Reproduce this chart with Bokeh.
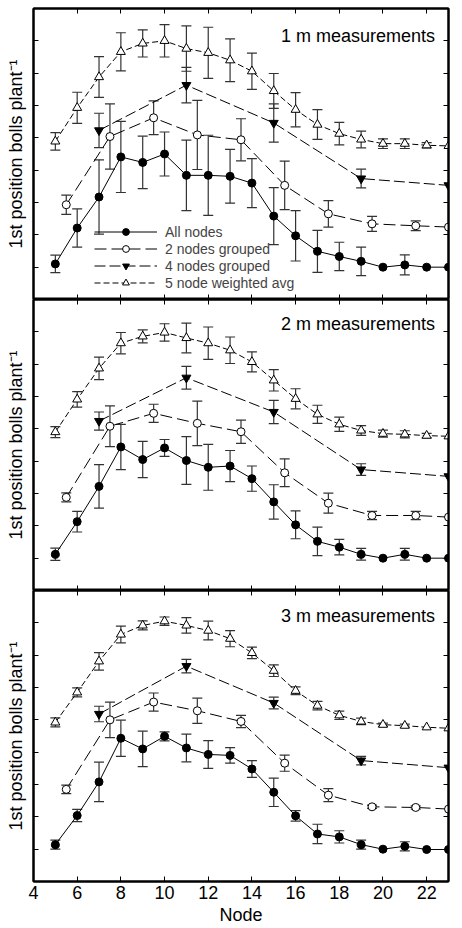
from bokeh.plotting import figure
from bokeh.layouts import column
from bokeh.models import (ColumnDataSource, Whisker, TeeHead, Range1d, FixedTicker,
                          LinearAxis, Legend, LegendItem, Label)
from bokeh.embed import file_html
from bokeh.resources import INLINE

# Node positions for each grouping
nodes_all = [5, 6, 7, 8, 9, 10, 11, 12, 13, 14, 15, 16, 17, 18, 19, 20, 21, 22, 23]
nodes_two = [5.5, 7.5, 9.5, 11.5, 13.5, 15.5, 17.5, 19.5, 21.5, 23]
nodes_four = [7, 11, 15, 19, 23]
x_ticks = [4, 6, 8, 10, 12, 14, 16, 18, 20, 22]
y_ticks = [0, 1, 2, 3, 4, 5, 6, 7, 8, 9]

panel_titles = ["1 m measurements", "2 m measurements", "3 m measurements"]
series_labels = ["All nodes", "2 nodes grouped", "4 nodes grouped", "5 node weighted avg"]

# 1 m measurements
all_1m = [1.10, 2.21, 3.17, 4.41, 4.24, 4.50, 3.84, 3.84, 3.81, 3.60, 2.58, 1.97, 1.49, 1.33, 1.18, 1.00, 1.07, 1.00, 1.00]
all_1m_err = [0.27, 0.59, 1.15, 1.10, 0.81, 0.68, 1.09, 1.24, 0.83, 0.76, 0.88, 0.78, 0.65, 0.44, 0.44, 0.0, 0.31, 0.0, 0.0]
two_1m = [2.93, 5.04, 5.62, 5.09, 4.94, 3.53, 2.65, 2.34, 2.28, 2.24]
two_1m_err = [0.30, 1.01, 0.52, 1.07, 0.65, 0.75, 0.41, 0.23, 0.15, 0.0]
four_1m = [5.23, 6.63, 5.46, 3.74, 3.53]
four_1m_err = [0.53, 0.55, 0.59, 0.29, 0.0]
five_1m = [4.89, 5.93, 6.88, 7.66, 7.92, 8.00, 7.76, 7.63, 7.40, 7.06, 6.45, 5.87, 5.41, 5.13, 4.95, 4.82, 4.82, 4.77, 4.75]
five_1m_err = [0.27, 0.48, 0.63, 0.59, 0.42, 0.50, 0.70, 0.79, 0.66, 0.56, 0.54, 0.53, 0.46, 0.35, 0.26, 0.15, 0.15, 0.08, 0.0]

# 2 m measurements
all_2m = [1.12, 2.13, 3.22, 4.44, 4.05, 4.41, 4.02, 3.81, 3.85, 3.46, 2.74, 2.03, 1.52, 1.34, 1.12, 1.00, 1.12, 1.00, 1.00]
all_2m_err = [0.19, 0.32, 0.67, 0.70, 0.56, 0.26, 0.74, 0.71, 0.48, 0.39, 0.53, 0.43, 0.44, 0.24, 0.18, 0.0, 0.18, 0.0, 0.0]
two_2m = [2.88, 5.08, 5.48, 5.17, 4.91, 3.64, 2.70, 2.32, 2.32, 2.27]
two_2m_err = [0.14, 0.63, 0.28, 0.69, 0.36, 0.43, 0.31, 0.13, 0.13, 0.0]
four_2m = [5.24, 6.58, 5.52, 3.74, 3.53]
four_2m_err = [0.28, 0.35, 0.36, 0.18, 0.0]
five_2m = [4.90, 5.91, 6.87, 7.65, 7.86, 7.98, 7.81, 7.65, 7.43, 7.07, 6.50, 5.93, 5.45, 5.14, 4.95, 4.85, 4.83, 4.79, 4.77]
five_2m_err = [0.17, 0.24, 0.35, 0.33, 0.20, 0.27, 0.46, 0.50, 0.41, 0.31, 0.33, 0.31, 0.28, 0.22, 0.15, 0.11, 0.11, 0.07, 0.0]

# 3 m measurements
all_3m = [1.14, 2.04, 3.08, 4.43, 4.10, 4.49, 4.13, 3.93, 3.90, 3.48, 2.76, 2.03, 1.47, 1.38, 1.14, 1.00, 1.09, 0.99, 0.99]
all_3m_err = [0.14, 0.19, 0.61, 0.56, 0.55, 0.14, 0.43, 0.43, 0.24, 0.26, 0.44, 0.16, 0.30, 0.19, 0.14, 0.0, 0.14, 0.0, 0.0]
two_3m = [2.85, 5.00, 5.55, 5.28, 4.95, 3.66, 2.67, 2.31, 2.29, 2.24]
two_3m_err = [0.13, 0.55, 0.28, 0.39, 0.19, 0.25, 0.20, 0.05, 0.05, 0.0]
four_3m = [5.18, 6.66, 5.52, 3.74, 3.52]
four_3m_err = [0.24, 0.21, 0.18, 0.13, 0.0]
five_3m = [4.92, 5.85, 6.81, 7.64, 7.92, 8.05, 7.92, 7.76, 7.51, 7.07, 6.52, 5.90, 5.44, 5.14, 4.95, 4.85, 4.82, 4.77, 4.74]
five_3m_err = [0.14, 0.14, 0.27, 0.26, 0.14, 0.13, 0.24, 0.29, 0.25, 0.18, 0.18, 0.12, 0.13, 0.13, 0.10, 0.05, 0.05, 0.0, 0.0]

panels = [
    (all_1m, all_1m_err, two_1m, two_1m_err, four_1m, four_1m_err, five_1m, five_1m_err),
    (all_2m, all_2m_err, two_2m, two_2m_err, four_2m, four_2m_err, five_2m, five_2m_err),
    (all_3m, all_3m_err, two_3m, two_3m_err, four_3m, four_3m_err, five_3m, five_3m_err),
]

FONT = "Liberation Sans"
ERR_COLOR = "#333333"
FRAME_H = 291
# title baseline distance below each panel's top edge, in pixels
TITLE_DROP = [27.7, 24.0, 25.0]


def style_axis(ax, ticks, show_labels):
    ax.ticker = FixedTicker(ticks=ticks)
    ax.major_tick_in = 5
    ax.major_tick_out = 0
    ax.minor_tick_in = 0
    ax.minor_tick_out = 0
    ax.axis_line_color = "black"
    ax.axis_line_width = 2
    ax.major_tick_line_color = "black"
    ax.major_tick_line_width = 1
    ax.major_label_text_font = FONT
    ax.axis_label_text_font = FONT
    ax.axis_label_text_font_style = "normal"
    ax.axis_label_text_color = "black"
    ax.major_label_text_font_size = "18px"
    if show_labels:
        ax.major_label_text_color = "black"
        ax.major_label_standoff = 4
    else:
        # tick marks only: labels are neither drawn nor given room
        ax.major_label_text_color = None
        ax.major_label_standoff = 0


def add_errors(p, xs, ys, errs):
    keep = [i for i, e in enumerate(errs) if e > 0]
    src = ColumnDataSource(dict(
        x=[xs[i] for i in keep],
        lower=[ys[i] - errs[i] for i in keep],
        upper=[ys[i] + errs[i] for i in keep],
    ))
    w = Whisker(source=src, base="x", lower="lower", upper="upper",
                line_color=ERR_COLOR, line_width=1.2,
                upper_head=TeeHead(size=10, line_color=ERR_COLOR, line_width=1.2),
                lower_head=TeeHead(size=10, line_color=ERR_COLOR, line_width=1.2))
    p.add_layout(w)


def make_panel(idx, data, last):
    (a, a_e, t, t_e, f, f_e, w, w_e) = data
    top = 8 if idx == 0 else 0
    bottom = 47 if last else 0
    p = figure(frame_width=415, frame_height=FRAME_H,
               x_range=Range1d(4, 23), y_range=Range1d(0, 9),
               x_axis_location=None, y_axis_location=None,
               min_border_left=33, min_border_right=14,
               min_border_top=top, min_border_bottom=bottom,
               output_backend="svg", toolbar_location=None,
               background_fill_color="white", border_fill_color="white")
    p.grid.grid_line_color = None
    p.outline_line_color = "black"
    p.outline_line_width = 2

    left = LinearAxis(axis_label="1st position bolls plant\u207b\u00b9")
    style_axis(left, y_ticks, False)
    left.axis_label_text_font_size = "18px"
    left.axis_label_standoff = 8
    p.add_layout(left, "left")

    right = LinearAxis()
    style_axis(right, y_ticks, False)
    p.add_layout(right, "right")

    above = LinearAxis()
    style_axis(above, x_ticks, False)
    p.add_layout(above, "above")

    below = LinearAxis(axis_label="Node" if last else None)
    style_axis(below, x_ticks, last)
    below.axis_label_text_font_size = "18px"
    below.axis_label_standoff = 3
    p.add_layout(below, "below")

    for xs, ys, es in ((nodes_all, a, a_e), (nodes_two, t, t_e),
                       (nodes_four, f, f_e), (nodes_all, w, w_e)):
        add_errors(p, xs, ys, es)

    l_all = p.line(nodes_all, a, line_color="black", line_width=1)
    m_all = p.scatter(nodes_all, a, marker="circle", size=8,
                      fill_color="black", line_color="black")
    l_two = p.line(nodes_two, t, line_color="black", line_width=1, line_dash="12 5")
    m_two = p.scatter(nodes_two, t, marker="circle", size=8,
                      fill_color="white", line_color="black", line_width=1)
    l_four = p.line(nodes_four, f, line_color="black", line_width=1, line_dash="11 4")
    m_four = p.scatter(nodes_four, f, marker="inverted_triangle", size=9,
                       fill_color="black", line_color="black")
    l_five = p.line(nodes_all, w, line_color="black", line_width=1, line_dash="6 3")
    m_five = p.scatter(nodes_all, w, marker="triangle", size=9,
                       fill_color="white", line_color="black", line_width=1)

    title_y = 9 - TITLE_DROP[idx] * 9 / FRAME_H
    p.add_layout(Label(x=22.38, y=title_y, text=panel_titles[idx],
                       text_align="right", text_baseline="alphabetic",
                       text_font=FONT, text_font_size="18px", text_color="black"))

    if idx == 0:
        legend = Legend(items=[
            LegendItem(label=series_labels[0], renderers=[l_all, m_all]),
            LegendItem(label=series_labels[1], renderers=[l_two, m_two]),
            LegendItem(label=series_labels[2], renderers=[l_four, m_four]),
            LegendItem(label=series_labels[3], renderers=[l_five, m_five]),
        ], location=(61, 8), glyph_width=63, glyph_height=17, label_height=17,
            label_standoff=8, padding=0, margin=0, spacing=0,
            border_line_alpha=0, background_fill_alpha=0,
            label_text_font=FONT, label_text_font_size="14px")
        p.add_layout(legend)
    return p


figs = [make_panel(i, panels[i], i == 2) for i in range(3)]
layout = column(*figs, spacing=0)

open("out.html", "w").write(file_html(layout, INLINE))
